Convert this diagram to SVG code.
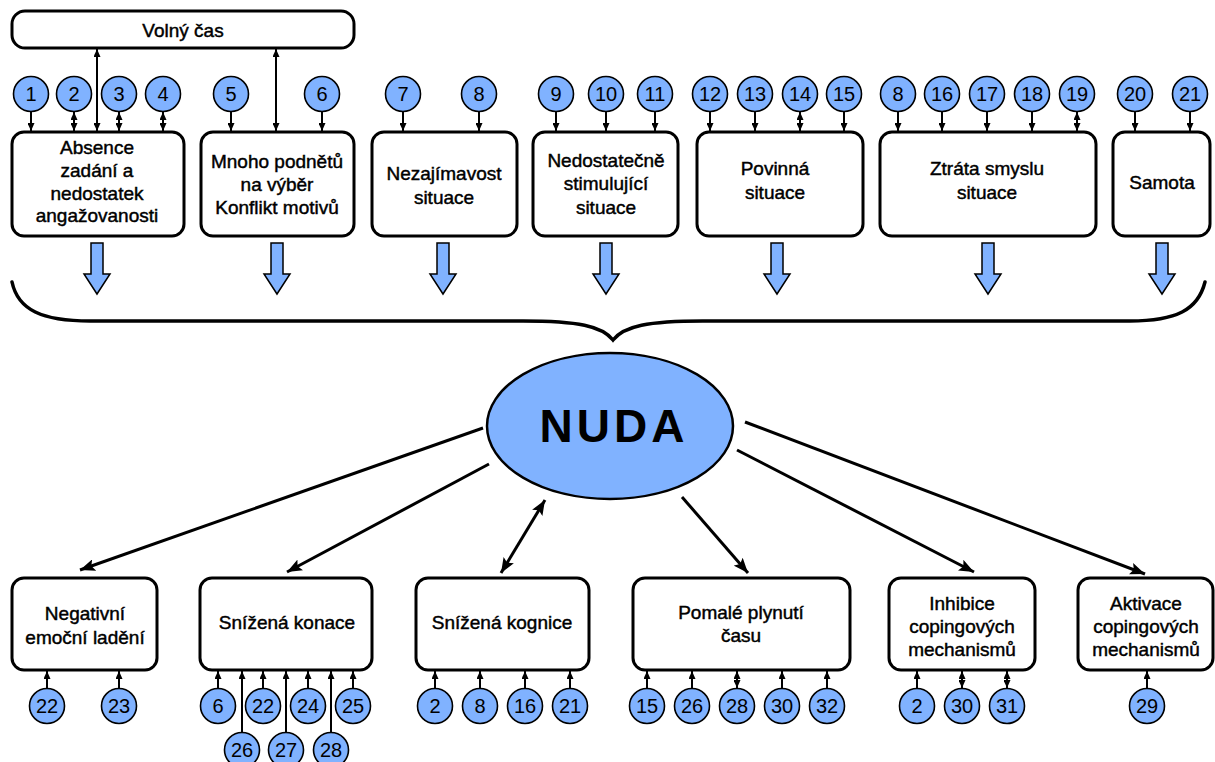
<svg xmlns="http://www.w3.org/2000/svg" width="1215" height="762" viewBox="0 0 1215 762">
<defs>
<style>
.box{fill:#fff;stroke:#000;stroke-width:3}
.c{fill:#80b2ff;stroke:#000;stroke-width:1.6}
.t{font-family:"Liberation Sans",Arial,sans-serif;font-size:19px;fill:#000;stroke:#000;stroke-width:0.45;text-anchor:middle}
.n{font-family:"Liberation Sans",Arial,sans-serif;font-size:20px;fill:#000;text-anchor:middle}
.sa{stroke:#000;stroke-width:2;fill:none;marker-end:url(#sh)}
.sd{stroke:#000;stroke-width:2;fill:none;marker-end:url(#sh);marker-start:url(#sh)}
.la{stroke:#000;stroke-width:3;fill:none;marker-end:url(#lh)}
.ld{stroke:#000;stroke-width:3;fill:none;marker-end:url(#lh);marker-start:url(#lh)}
.ba{fill:#80b2ff;stroke:#000;stroke-width:1.5}
</style>
<marker id="sh" viewBox="0 0 8 7" refX="8" refY="3.5" markerWidth="8" markerHeight="7" markerUnits="userSpaceOnUse" orient="auto-start-reverse"><path d="M0,0 L8,3.5 L0,7 z" fill="#000"/></marker>
<marker id="lh" viewBox="0 0 15 12" refX="15" refY="6" markerWidth="15" markerHeight="12" markerUnits="userSpaceOnUse" orient="auto-start-reverse"><path d="M0,0 L15,6 L0,12 L3,6 z" fill="#000"/></marker>
<path id="barrow" d="M-6,0 H6 V31 H13 L0,51 L-13,31 H-6 Z"/>
</defs>

<g id="volny">
<rect class="box" x="12" y="11" width="342" height="37" rx="13"/>
<text class="t" x="183" y="37">Volný čas</text>
</g>

<g id="box1"><rect class="box" x="12" y="132" width="172" height="104" rx="12"/>
<text class="t" x="97" y="154">Absence</text><text class="t" x="97" y="177">zadání a</text><text class="t" x="97" y="200">nedostatek</text><text class="t" x="97" y="222">angažovanosti</text></g>
<g id="box2"><rect class="box" x="201" y="132" width="153" height="104" rx="12"/>
<text class="t" x="277" y="168">Mnoho podnětů</text><text class="t" x="277" y="191">na výběr</text><text class="t" x="277" y="214">Konflikt motivů</text></g>
<g id="box3"><rect class="box" x="372" y="132" width="145" height="104" rx="12"/>
<text class="t" x="444" y="180">Nezajímavost</text><text class="t" x="444" y="204">situace</text></g>
<g id="box4"><rect class="box" x="533" y="132" width="145" height="104" rx="12"/>
<text class="t" x="606" y="167">Nedostatečně</text><text class="t" x="606" y="190">stimulující</text><text class="t" x="606" y="214">situace</text></g>
<g id="box5"><rect class="box" x="697" y="132" width="166" height="104" rx="12"/>
<text class="t" x="775" y="175">Povinná</text><text class="t" x="775" y="199">situace</text></g>
<g id="box6"><rect class="box" x="880" y="132" width="216" height="104" rx="12"/>
<text class="t" x="987" y="175">Ztráta smyslu</text><text class="t" x="987" y="199">situace</text></g>
<g id="box7"><rect class="box" x="1113" y="132" width="97" height="104" rx="12"/>
<text class="t" x="1162" y="189">Samota</text></g>

<g id="top-circles">
<circle class="c" cx="31" cy="94" r="17.5"/><text class="n" x="31" y="101">1</text>
<circle class="c" cx="74" cy="94" r="17.5"/><text class="n" x="74" y="101">2</text>
<circle class="c" cx="119" cy="94" r="17.5"/><text class="n" x="119" y="101">3</text>
<circle class="c" cx="163" cy="94" r="17.5"/><text class="n" x="163" y="101">4</text>
<circle class="c" cx="231" cy="94" r="17.5"/><text class="n" x="231" y="101">5</text>
<circle class="c" cx="322" cy="94" r="17.5"/><text class="n" x="322" y="101">6</text>
<circle class="c" cx="403" cy="94" r="17.5"/><text class="n" x="403" y="101">7</text>
<circle class="c" cx="479" cy="94" r="17.5"/><text class="n" x="479" y="101">8</text>
<circle class="c" cx="556" cy="94" r="17.5"/><text class="n" x="556" y="101">9</text>
<circle class="c" cx="606" cy="94" r="17.5"/><text class="n" x="606" y="101">10</text>
<circle class="c" cx="655" cy="94" r="17.5"/><text class="n" x="655" y="101">11</text>
<circle class="c" cx="710" cy="94" r="17.5"/><text class="n" x="710" y="101">12</text>
<circle class="c" cx="755" cy="94" r="17.5"/><text class="n" x="755" y="101">13</text>
<circle class="c" cx="800" cy="94" r="17.5"/><text class="n" x="800" y="101">14</text>
<circle class="c" cx="844" cy="94" r="17.5"/><text class="n" x="844" y="101">15</text>
<circle class="c" cx="898" cy="94" r="17.5"/><text class="n" x="898" y="101">8</text>
<circle class="c" cx="942" cy="94" r="17.5"/><text class="n" x="942" y="101">16</text>
<circle class="c" cx="987" cy="94" r="17.5"/><text class="n" x="987" y="101">17</text>
<circle class="c" cx="1032" cy="94" r="17.5"/><text class="n" x="1032" y="101">18</text>
<circle class="c" cx="1077" cy="94" r="17.5"/><text class="n" x="1077" y="101">19</text>
<circle class="c" cx="1135" cy="94" r="17.5"/><text class="n" x="1135" y="101">20</text>
<circle class="c" cx="1190" cy="94" r="17.5"/><text class="n" x="1190" y="101">21</text>
</g>

<g id="nuda">
<ellipse cx="610" cy="426" rx="123" ry="73" fill="#80b2ff" stroke="#000" stroke-width="2.5"/>
<text x="614" y="442" font-family="'Liberation Sans',Arial,sans-serif" font-size="46" font-weight="bold" letter-spacing="4" text-anchor="middle">NUDA</text>
</g>

<g id="bbox1"><rect class="box" x="12" y="578" width="145" height="92" rx="12"/>
<text class="t" x="85" y="620">Negativní</text><text class="t" x="85" y="644">emoční ladění</text></g>
<g id="bbox2"><rect class="box" x="200" y="578" width="172" height="92" rx="12"/>
<text class="t" x="287" y="629">Snížená konace</text></g>
<g id="bbox3"><rect class="box" x="416" y="578" width="173" height="92" rx="12"/>
<text class="t" x="502" y="629">Snížená kognice</text></g>
<g id="bbox4"><rect class="box" x="633" y="578" width="217" height="92" rx="12"/>
<text class="t" x="741" y="619">Pomalé plynutí</text><text class="t" x="741" y="642">času</text></g>
<g id="bbox5"><rect class="box" x="889" y="578" width="146" height="92" rx="12"/>
<text class="t" x="962" y="610">Inhibice</text><text class="t" x="962" y="633">copingových</text><text class="t" x="962" y="656">mechanismů</text></g>
<g id="bbox6"><rect class="box" x="1078" y="578" width="135" height="92" rx="12"/>
<text class="t" x="1146" y="610">Aktivace</text><text class="t" x="1146" y="633">copingových</text><text class="t" x="1146" y="656">mechanismů</text></g>

<g id="bottom-circles">
<circle class="c" cx="47" cy="706" r="17.5"/><text class="n" x="47" y="713">22</text>
<circle class="c" cx="119" cy="706" r="17.5"/><text class="n" x="119" y="713">23</text>
<circle class="c" cx="218" cy="706" r="17.5"/><text class="n" x="218" y="713">6</text>
<circle class="c" cx="263" cy="706" r="17.5"/><text class="n" x="263" y="713">22</text>
<circle class="c" cx="308" cy="706" r="17.5"/><text class="n" x="308" y="713">24</text>
<circle class="c" cx="353" cy="706" r="17.5"/><text class="n" x="353" y="713">25</text>
<circle class="c" cx="242" cy="750" r="17.5"/><text class="n" x="242" y="757">26</text>
<circle class="c" cx="286" cy="750" r="17.5"/><text class="n" x="286" y="757">27</text>
<circle class="c" cx="331" cy="750" r="17.5"/><text class="n" x="331" y="757">28</text>
<circle class="c" cx="435" cy="706" r="17.5"/><text class="n" x="435" y="713">2</text>
<circle class="c" cx="480" cy="706" r="17.5"/><text class="n" x="480" y="713">8</text>
<circle class="c" cx="525" cy="706" r="17.5"/><text class="n" x="525" y="713">16</text>
<circle class="c" cx="570" cy="706" r="17.5"/><text class="n" x="570" y="713">21</text>
<circle class="c" cx="647" cy="706" r="17.5"/><text class="n" x="647" y="713">15</text>
<circle class="c" cx="692" cy="706" r="17.5"/><text class="n" x="692" y="713">26</text>
<circle class="c" cx="737" cy="706" r="17.5"/><text class="n" x="737" y="713">28</text>
<circle class="c" cx="782" cy="706" r="17.5"/><text class="n" x="782" y="713">30</text>
<circle class="c" cx="827" cy="706" r="17.5"/><text class="n" x="827" y="713">32</text>
<circle class="c" cx="917" cy="706" r="17.5"/><text class="n" x="917" y="713">2</text>
<circle class="c" cx="962" cy="706" r="17.5"/><text class="n" x="962" y="713">30</text>
<circle class="c" cx="1007" cy="706" r="17.5"/><text class="n" x="1007" y="713">31</text>
<circle class="c" cx="1147" cy="706" r="17.5"/><text class="n" x="1147" y="713">29</text>
</g>

<g id="connectors">
<path class="sd" d="M97,49 V131"/>
<path class="sd" d="M276,49 V131"/>
<path class="sa" d="M31,112 V131"/>
<path class="sd" d="M74,112 V131"/>
<path class="sd" d="M119,112 V131"/>
<path class="sd" d="M163,112 V131"/>
<path class="sa" d="M231,112 V131"/>
<path class="sa" d="M322,112 V131"/>
<path class="sa" d="M403,112 V131"/>
<path class="sa" d="M479,112 V131"/>
<path class="sa" d="M556,112 V131"/>
<path class="sa" d="M606,112 V131"/>
<path class="sa" d="M655,112 V131"/>
<path class="sa" d="M710,112 V131"/>
<path class="sa" d="M755,112 V131"/>
<path class="sd" d="M800,112 V131"/>
<path class="sa" d="M844,112 V131"/>
<path class="sa" d="M898,112 V131"/>
<path class="sa" d="M942,112 V131"/>
<path class="sa" d="M987,112 V131"/>
<path class="sa" d="M1032,112 V131"/>
<path class="sd" d="M1077,112 V131"/>
<path class="sa" d="M1135,112 V131"/>
<path class="sa" d="M1190,112 V131"/>

<use href="#barrow" class="ba" x="97" y="243"/>
<use href="#barrow" class="ba" x="277" y="243"/>
<use href="#barrow" class="ba" x="443" y="243"/>
<use href="#barrow" class="ba" x="606" y="243"/>
<use href="#barrow" class="ba" x="777" y="243"/>
<use href="#barrow" class="ba" x="988" y="243"/>
<use href="#barrow" class="ba" x="1162" y="243"/>

<path d="M12,282 C18,310 42,321 90,321 L523,321 C578,321 602,326 613,340 C624,326 648,321 703,321 L1130,321 C1176,321 1198,310 1205,282" fill="none" stroke="#000" stroke-width="3.5" stroke-linecap="round"/>

<path class="la" d="M483,428 L80,570"/>
<path class="la" d="M489,464 L287,572"/>
<path class="ld" d="M545,500 L501,573"/>
<path class="la" d="M682,497 L748,573"/>
<path class="la" d="M737,450 L974,572"/>
<path class="la" d="M745,422 L1145,574"/>

<path class="sa" d="M47,688 V671"/>
<path class="sa" d="M119,688 V671"/>
<path class="sa" d="M218,688 V671"/>
<path class="sa" d="M263,688 V671"/>
<path class="sa" d="M308,688 V671"/>
<path class="sa" d="M353,688 V671"/>
<path class="sa" d="M242,732 V671"/>
<path class="sa" d="M286,732 V671"/>
<path class="sa" d="M331,732 V671"/>
<path class="sa" d="M435,688 V671"/>
<path class="sa" d="M480,688 V671"/>
<path class="sa" d="M525,688 V671"/>
<path class="sa" d="M570,688 V671"/>
<path class="sa" d="M647,688 V671"/>
<path class="sa" d="M692,688 V671"/>
<path class="sd" d="M737,688 V671"/>
<path class="sa" d="M782,688 V671"/>
<path class="sa" d="M827,688 V671"/>
<path class="sa" d="M917,688 V671"/>
<path class="sd" d="M962,688 V671"/>
<path class="sd" d="M1007,688 V671"/>
<path class="sa" d="M1147,688 V671"/>
</g>
</svg>
